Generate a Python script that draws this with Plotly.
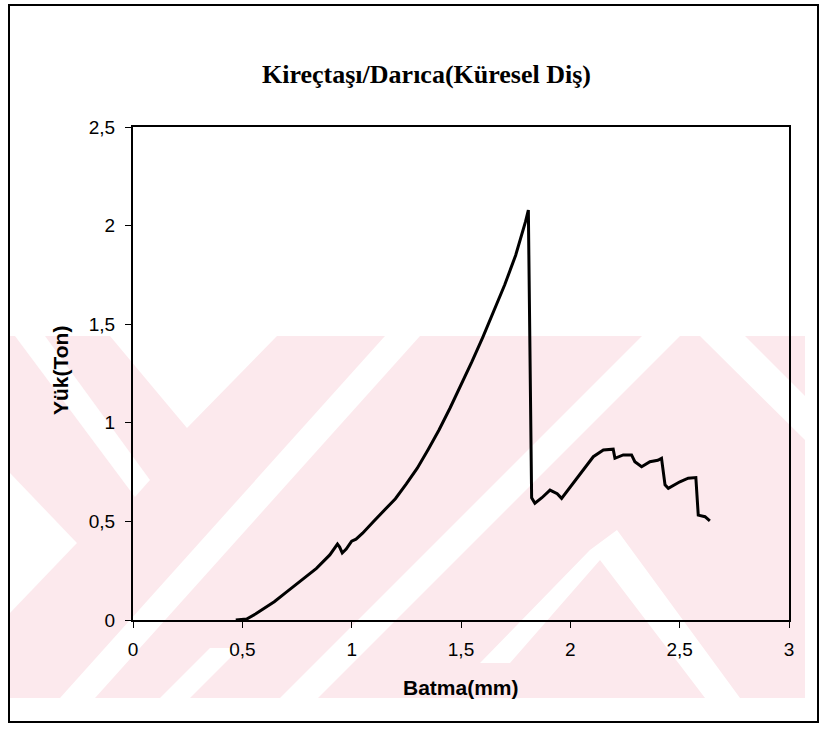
import plotly.graph_objects as go

# ---------------- data ----------------
batma_mm = [0.47, 0.52, 0.56, 0.60, 0.646, 0.70, 0.743, 0.80, 0.839, 0.90, 0.935,
            0.945, 0.957, 0.975, 1.0, 1.02, 1.05, 1.10, 1.15, 1.20, 1.25, 1.30,
            1.35, 1.40, 1.45, 1.50, 1.55, 1.60, 1.65, 1.70, 1.75, 1.78, 1.795,
            1.808, 1.823, 1.838, 1.87, 1.907, 1.922, 1.94, 1.96, 2.013, 2.06,
            2.105, 2.151, 2.196, 2.204, 2.242, 2.28, 2.295, 2.326, 2.364, 2.40,
            2.417, 2.433, 2.448, 2.501, 2.539, 2.574, 2.585, 2.616, 2.638]
yuk_ton = [0.0, 0.005, 0.03, 0.06, 0.093, 0.14, 0.177, 0.225, 0.262, 0.33, 0.385,
           0.37, 0.34, 0.36, 0.40, 0.41, 0.44, 0.50, 0.555, 0.615, 0.69, 0.77,
           0.865, 0.965, 1.075, 1.19, 1.31, 1.435, 1.565, 1.70, 1.85, 1.96, 2.02,
           2.079, 0.62, 0.592, 0.62, 0.659, 0.651, 0.64, 0.617, 0.693, 0.76,
           0.828, 0.862, 0.866, 0.82, 0.837, 0.837, 0.803, 0.777, 0.803, 0.81,
           0.82, 0.685, 0.668, 0.701, 0.719, 0.722, 0.532, 0.524, 0.503]

x_tickvals = [0, 0.5, 1, 1.5, 2, 2.5, 3]
x_ticktext = ["0", "0,5", "1", "1,5", "2", "2,5", "3"]
y_tickvals = [0, 0.5, 1, 1.5, 2, 2.5]
y_ticktext = ["0", "0,5", "1", "1,5", "2", "2,5"]

title_text = "Kireçtaşı/Darıca(Küresel Diş)"
x_title = "Batma(mm)"
y_title = "Yük(Ton)"

# ---------------- layout geometry (pixels) ----------------
W, H = 827, 739
L, R, T, B = 133, 789, 127, 620
PW, PH = R - L, B - T


def px(x):
    return (x - L) / PW


def py(y):
    return (B - y) / PH


def poly(points, color):
    path = "M " + " L ".join(f"{px(a):.4f},{py(b):.4f}" for a, b in points) + " Z"
    return dict(type="path", xref="paper", yref="paper", path=path,
                fillcolor=color, line=dict(width=0), layer="below")


PINK = "#fce9ed"
WHITE = "#ffffff"
shapes = []
# watermark band
shapes.append(poly([(10, 336), (805, 336), (805, 698), (10, 698)], PINK))
# white cut-outs of the watermark
wm_white = [
    [(15, 336), (45, 336), (150, 480), (135, 497)],
    [(10, 473), (77, 543), (10, 613)],
    [(110, 336), (277, 336), (187, 428)],
    [(60, 698), (95, 698), (420, 336), (385, 336)],
    [(280, 698), (318, 698), (680, 336), (642, 336)],
    [(480, 663), (590, 550), (617, 530), (740, 698), (705, 698), (600, 560), (510, 663)],
    [(700, 336), (745, 336), (805, 396), (805, 440)],
    [(160, 698), (190, 698), (240, 648), (210, 648)],
]
for p in wm_white:
    shapes.append(poly(p, WHITE))
# outer frame
shapes.append(dict(type="rect", xref="paper", yref="paper",
                   x0=px(9), x1=px(818), y0=py(722), y1=py(5),
                   line=dict(color="black", width=2), layer="above"))

fig = go.Figure()
fig.add_trace(go.Scatter(x=batma_mm, y=yuk_ton, mode="lines",
                         line=dict(color="black", width=3), showlegend=False))

axis_font = dict(family="Liberation Sans, Arial, sans-serif", size=19, color="black")

fig.update_layout(
    width=W, height=H,
    margin=dict(l=L, r=W - R, t=T, b=H - B),
    paper_bgcolor="white",
    plot_bgcolor="rgba(0,0,0,0)",
    shapes=shapes,
    showlegend=False,
    annotations=[
        dict(text=f"<b>{title_text}</b>", xref="paper", yref="paper",
             x=px(426), y=py(74), showarrow=False, xanchor="center", yanchor="middle",
             font=dict(family="Liberation Serif, Times New Roman, serif", size=26, color="black")),
        dict(text=f"<b>{x_title}</b>", xref="paper", yref="paper",
             x=px(461), y=py(687), showarrow=False, xanchor="center", yanchor="middle",
             font=dict(family="Liberation Sans, Arial, sans-serif", size=21, color="black")),
        dict(text=f"<b>{y_title}</b>", xref="paper", yref="paper",
             x=px(60), y=py(371), showarrow=False, xanchor="center", yanchor="middle",
             textangle=-90,
             font=dict(family="Liberation Sans, Arial, sans-serif", size=21, color="black")),
    ],
    xaxis=dict(range=[0, 3], tickvals=x_tickvals, ticktext=x_ticktext,
               showgrid=False, zeroline=False, showline=True, linecolor="black",
               linewidth=2, mirror=True, ticks="outside", ticklen=6, tickwidth=1,
               tickcolor="black", tickfont=axis_font, ticklabelstandoff=5),
    yaxis=dict(range=[0, 2.5], tickvals=y_tickvals, ticktext=y_ticktext,
               showgrid=False, zeroline=False, showline=True, linecolor="black",
               linewidth=2, mirror=True, ticks="outside", ticklen=6, tickwidth=1,
               tickcolor="black", tickfont=axis_font, ticklabelstandoff=6),
)

fig.write_html("out.html", config={"displayModeBar": False},
               post_script="document.body.style.margin='0';")
